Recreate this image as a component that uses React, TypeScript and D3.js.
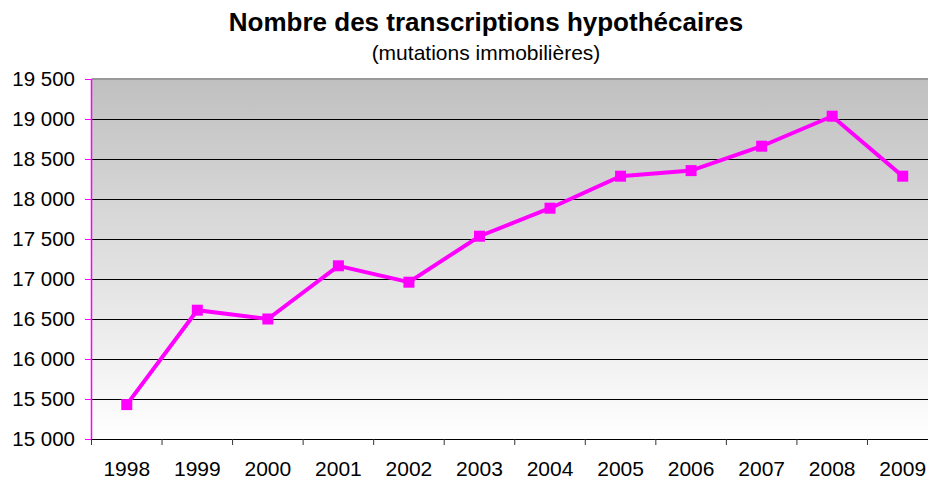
import React from "react";
import * as d3 from "d3";

const years = ["1998", "1999", "2000", "2001", "2002", "2003", "2004", "2005", "2006", "2007", "2008", "2009"];
const transcriptions = [15430, 16610, 16500, 17165, 16960, 17535, 17885, 18285, 18355, 18660, 19035, 18285];
const yTicks = [15000, 15500, 16000, 16500, 17000, 17500, 18000, 18500, 19000, 19500];

const width = 928;
const height = 480;
const left = 91.5;
const right = 938;
const top = 79;
const bottom = 439;
const font = "'Liberation Sans', Arial, sans-serif";

const fmt = (v: number) => d3.format(",")(v).replace(",", " ");

const App = () => {
  const x = d3.scaleBand().domain(years).range([left, right]);
  const y = d3.scaleLinear().domain([15000, 19500]).range([bottom, top]);

  const line = d3
    .line<number>()
    .x((d, i) => x(years[i])! + x.bandwidth() / 2)
    .y((d) => y(d));

  return (
    <svg width={width} height={height} style={{ position: "absolute", left: 0, top: 0 }}>
      <defs>
        <linearGradient id="bg" x1="0" y1="0" x2="0" y2="1">
          <stop offset="0" stopColor="#c0c0c0" />
          <stop offset="1" stopColor="#ffffff" />
        </linearGradient>
      </defs>
      <rect width={width} height={height} fill="#fff" />
      <text x={486} y={31} textAnchor="middle" fontFamily={font} fontWeight="bold" fontSize={26}>
        Nombre des transcriptions hypothécaires
      </text>
      <text x={486} y={60} textAnchor="middle" fontFamily={font} fontSize={21}>
        (mutations immobilières)
      </text>

      <rect x={left} y={top} width={right - left} height={bottom - top} fill="url(#bg)" />
      <line x1={left} x2={right} y1={top} y2={top} stroke="#999" strokeWidth={2} />

      {yTicks.slice(1, -1).map((t) => (
        <line key={t} x1={left} x2={right} y1={y(t) + 0.5} y2={y(t) + 0.5} stroke="#000" strokeWidth={1} shapeRendering="crispEdges" />
      ))}

      {yTicks.map((t) => (
        <g key={t}>
          <line x1={85} x2={left} y1={y(t) + 0.5} y2={y(t) + 0.5} stroke="#ff00ff" strokeWidth={1} shapeRendering="crispEdges" />
          <text x={75} y={y(t) + 7} textAnchor="end" fontFamily={font} fontSize={20.5}>
            {fmt(t)}
          </text>
        </g>
      ))}
      <line x1={left} x2={left} y1={top} y2={bottom} stroke="#ff00ff" strokeWidth={1.5} />

      <line x1={left} x2={right} y1={bottom + 0.5} y2={bottom + 0.5} stroke="#000" strokeWidth={1} shapeRendering="crispEdges" />
      {years.map((yr) => (
        <g key={yr}>
          <line x1={x(yr)!} x2={x(yr)!} y1={bottom} y2={bottom + 6} stroke="#333" strokeWidth={1} />
          <text x={x(yr)! + x.bandwidth() / 2} y={476} textAnchor="middle" fontFamily={font} fontSize={21}>
            {yr}
          </text>
        </g>
      ))}

      <path d={line(transcriptions)!} fill="none" stroke="#ff00ff" strokeWidth={4} />
      {transcriptions.map((v, i) => (
        <rect
          key={i}
          x={x(years[i])! + x.bandwidth() / 2 - 5.5}
          y={y(v) - 5.5}
          width={11}
          height={11}
          fill="#ff00ff"
        />
      ))}
    </svg>
  );
};

export default App;
